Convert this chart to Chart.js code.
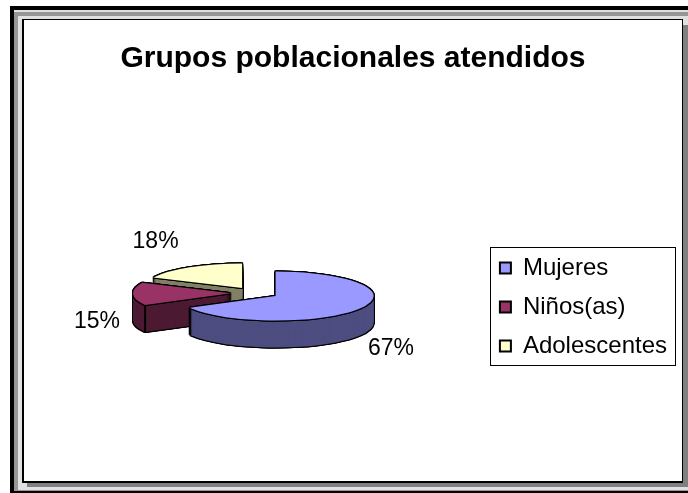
<!DOCTYPE html>
<html>
<head>
<meta charset="utf-8">
<style>
  html, body { margin: 0; padding: 0; background: #fff; }
  canvas { display: block; }
</style>
<script src="https://cdn.jsdelivr.net/npm/chart.js@4"></script>
</head>
<body>
<canvas id="chart" width="688" height="493"></canvas>
<script>
const chartTitle = 'Grupos poblacionales atendidos';
const categories = ['Mujeres', 'Niños(as)', 'Adolescentes'];
const percentages = [67, 15, 18];
const topColours = ['#9999FF', '#993366', '#FFFFCC'];
const wallColours = ['#4D4D80', '#4D1A33', '#808066'];

// look of the fake 3D pie
const tilt = 0.25;
const depth = 27;
const explode = 24;
// nudges of the % labels from the outer middle of each slice
const labelNudges = [[31, 40], [-36, 28], [-34, -26]];
const outlineDirs = [[-1, 0], [1, 0], [0, -1], [0, 1], [-1, -1], [1, -1], [-1, 1], [1, 1]];

function sliceOffset(arc) {
  const mid = (arc.startAngle + arc.endAngle) / 2;
  return { x: Math.cos(mid) * explode, y: Math.sin(mid) * explode * tilt };
}

// draw the library's arc element squashed into an ellipse
function paintArc(ctx, arc, colour, dx, dy) {
  const saved = arc.options;
  arc.options = {
    backgroundColor: colour, borderColor: colour, borderWidth: 0, borderRadius: 0,
    borderAlign: 'center', offset: 0, spacing: 0, circular: true
  };
  ctx.save();
  ctx.translate(arc.x + dx, arc.y + dy);
  ctx.scale(1, tilt);
  ctx.translate(-arc.x, -arc.y);
  arc.draw(ctx);
  ctx.restore();
  arc.options = saved;
}

const framePlugin = {
  id: 'frame',
  beforeDraw(chart) {
    const ctx = chart.ctx;
    const box = (colour, l, t, r, b) => { ctx.fillStyle = colour; ctx.fillRect(l, t, r - l, b - t); };
    box('#ffffff', 0, 0, 688, 493);
    box('#000000', 10, 6, 688, 493);
    box('#e0e0e0', 14, 10, 688, 491);
    box('#969696', 14, 12, 688, 491);
    box('#e0e0e0', 18, 16, 688, 490);
    box('#808080', 27, 25, 688, 487);
    box('#000000', 22, 19, 683, 483);
    box('#ffffff', 24, 20, 682, 481);
  }
};

const piePlugin = {
  id: 'pie3d',
  afterLayout(chart) {
    // legend sits a bit below the middle of the plot
    chart.legend.top += 14;
    chart.legend.bottom += 14;
    // title is a little right of the page centre
    chart.titleBlock.left += 2;
    chart.titleBlock.right += 2;
  },
  beforeDatasetsDraw(chart) {
    const ctx = chart.ctx;
    const arcs = chart.getDatasetMeta(0).data;

    // back to front
    [2, 1, 0].forEach(i => {
      const arc = arcs[i];
      const off = sliceOffset(arc);
      for (let d = depth; d >= 0; d--) {
        outlineDirs.forEach(o => paintArc(ctx, arc, '#000000', off.x + o[0], off.y + d + o[1]));
      }
      for (let d = depth; d >= 0; d--) {
        paintArc(ctx, arc, wallColours[i], off.x, off.y + d);
      }
      // edge where the curved wall meets the flat one
      [arc.startAngle, arc.endAngle].forEach(a => {
        if (Math.sin(a) > 0.05) {
          const x = arc.x + off.x + Math.cos(a) * arc.outerRadius;
          const y = arc.y + off.y + Math.sin(a) * arc.outerRadius * tilt;
          ctx.fillStyle = '#000000';
          ctx.fillRect(x - 1, y, 2, depth);
        }
      });
      outlineDirs.forEach(o => paintArc(ctx, arc, '#000000', off.x + o[0], off.y + o[1]));
      paintArc(ctx, arc, topColours[i], off.x, off.y);
    });

    // % labels
    ctx.save();
    ctx.fillStyle = '#000000';
    ctx.font = '23px "Liberation Sans"';
    ctx.textAlign = 'center';
    ctx.textBaseline = 'middle';
    arcs.forEach((arc, i) => {
      const off = sliceOffset(arc);
      const mid = (arc.startAngle + arc.endAngle) / 2;
      const x = arc.x + off.x + Math.cos(mid) * arc.outerRadius + labelNudges[i][0];
      const y = arc.y + off.y + Math.sin(mid) * arc.outerRadius * tilt + labelNudges[i][1];
      ctx.fillText(percentages[i] + '%', x, y);
    });
    ctx.restore();
    return false;
  },
  afterDraw(chart) {
    // border round the legend
    const ctx = chart.ctx;
    const lg = chart.legend;
    const mid = Math.round((lg.top + lg.bottom) / 2);
    ctx.save();
    ctx.strokeStyle = '#000000';
    ctx.lineWidth = 1;
    ctx.strokeRect(Math.round(lg.left) + 5.5, mid - 59.5, 185, 118);
    ctx.restore();
  }
};

const chart = new Chart(document.getElementById('chart'), {
  type: 'pie',
  data: {
    labels: categories,
    datasets: [{
      data: percentages,
      backgroundColor: topColours,
      borderWidth: 0,
      radius: 98
    }]
  },
  plugins: [framePlugin, piePlugin],
  options: {
    responsive: false,
    animation: false,
    layout: { padding: { left: 25, right: 11 } },
    plugins: {
      tooltip: { enabled: false },
      title: {
        display: true,
        text: chartTitle,
        color: '#000000',
        font: { family: '"Liberation Sans"', size: 30, weight: 'bold' },
        padding: { top: 41, bottom: 16 }
      },
      legend: {
        position: 'right',
        fullSize: false,
        labels: {
          color: '#000000',
          font: { family: '"Liberation Sans"', size: 24, lineHeight: 1.125 },
          boxWidth: 11,
          boxHeight: 11,
          padding: 15,
          generateLabels(chart) {
            return categories.map((name, i) => ({
              text: name,
              fillStyle: topColours[i],
              strokeStyle: '#000000',
              lineWidth: 2,
              fontColor: '#000000',
              index: i
            }));
          }
        }
      }
    }
  }
});
</script>
</body>
</html>
